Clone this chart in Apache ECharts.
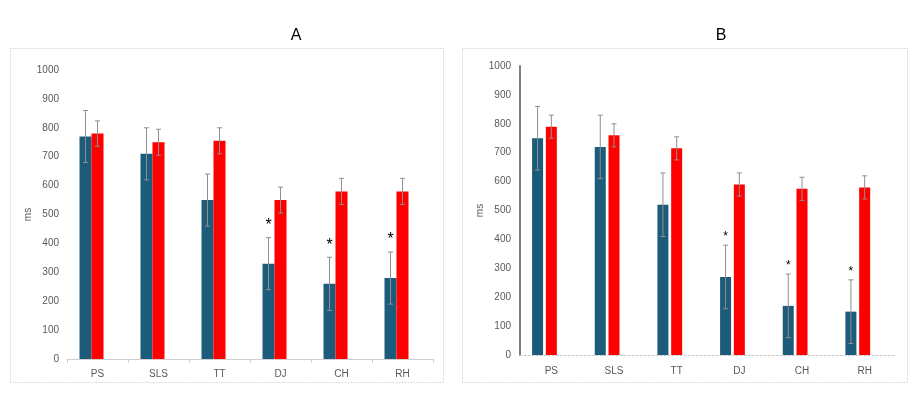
<!DOCTYPE html>
<html><head><meta charset="utf-8">
<script src="https://cdn.jsdelivr.net/npm/echarts@6/dist/echarts.min.js"></script>
<style>html,body{margin:0;padding:0;background:#fff}#c{width:916px;height:394px}</style>
</head><body><div id="c"></div>
<script>
const categories = ['PS', 'SLS', 'TT', 'DJ', 'CH', 'RH'];
const yTicks = [0, 100, 200, 300, 400, 500, 600, 700, 800, 900, 1000];
// Panel A
const blueA = [770, 710, 550, 330, 260, 280];
const blueErrA = [90, 90, 90, 90, 92, 90];
const redA = [780, 750, 755, 550, 580, 580];
const redErrA = [44, 45, 45, 45, 45, 45];
const sigA = [0, 0, 0, 1, 1, 1];
// Panel B
const blueB = [750, 720, 520, 270, 170, 150];
const blueErrB = [110, 110, 110, 110, 110, 110];
const redB = [790, 760, 715, 590, 575, 580];
const redErrB = [40, 40, 40, 40, 40, 40];
const sigB = [0, 0, 0, 1, 1, 1];

const BLUE = '#1d5b7b', RED = '#ff0000', ERR = '#8f8f8f', TXT = '#595959';
const FONT = '"Liberation Sans Narrow", "Liberation Sans", sans-serif';
const TFONT = '"Liberation Sans", sans-serif';

function errSeries(gridIdx, vals, errs, offset) {
  return {
    type: 'custom', xAxisIndex: gridIdx, yAxisIndex: gridIdx, z: 5, silent: true,
    data: vals.map((v, i) => [i, v - errs[i], v + errs[i]]),
    renderItem: function (params, api) {
      const lo = api.coord([api.value(0), api.value(1)]);
      const hi = api.coord([api.value(0), api.value(2)]);
      const x = lo[0] + offset;
      const s = { stroke: ERR, lineWidth: 1 };
      return { type: 'group', children: [
        { type: 'line', shape: { x1: x, y1: lo[1], x2: x, y2: hi[1] }, style: s },
        { type: 'line', shape: { x1: x - 2.5, y1: hi[1], x2: x + 2.5, y2: hi[1] }, style: s },
        { type: 'line', shape: { x1: x - 2.5, y1: lo[1], x2: x + 2.5, y2: lo[1] }, style: s }
      ]};
    }
  };
}

function barData(vals, sig, dist, fs) {
  return vals.map((v, i) => sig[i] ? {
    value: v,
    label: { show: true, position: 'top', distance: dist, formatter: '*', color: '#000', fontSize: fs, fontFamily: TFONT }
  } : v);
}

const chart = echarts.init(document.getElementById('c'), null, { renderer: 'canvas' });
const yAxisCommon = {
  type: 'value', min: 0, max: 1000, interval: 100,
  name: 'ms', nameLocation: 'middle', nameRotate: 90,
  nameTextStyle: { color: TXT, fontSize: 10, fontFamily: FONT },
  splitLine: { show: false }, axisTick: { show: false },
  axisLabel: { color: TXT, fontSize: 10, fontFamily: FONT, formatter: v => yTicks.includes(v) ? String(v) : '' }
};
chart.setOption({
  animation: false,
  title: [
    { text: 'A', left: 291, top: 23, textAlign: 'center', textStyle: { fontSize: 16, fontWeight: 'normal', color: '#000', fontFamily: TFONT } },
    { text: 'B', left: 716, top: 23, textAlign: 'center', textStyle: { fontSize: 16, fontWeight: 'normal', color: '#000', fontFamily: TFONT } }
  ],
  graphic: [
    { type: 'rect', shape: { x: 10.5, y: 48.5, width: 433, height: 334 }, style: { fill: 'none', stroke: '#dcdcdc', lineWidth: 1, lineDash: [2, 1] } },
    { type: 'rect', shape: { x: 462.5, y: 48.5, width: 445, height: 334 }, style: { fill: 'none', stroke: '#dcdcdc', lineWidth: 1, lineDash: [2, 1] } }
  ],
  grid: [
    { left: 67, top: 70, width: 366, height: 289 },
    { left: 520, top: 66, width: 376, height: 289 }
  ],
  xAxis: [
    { gridIndex: 0, type: 'category', data: categories,
      axisLine: { lineStyle: { color: '#d0d0d0', width: 1 } },
      axisTick: { show: true, length: 4, lineStyle: { color: '#d0d0d0' } },
      axisLabel: { color: TXT, fontSize: 10, fontFamily: FONT, margin: 10 } },
    { gridIndex: 1, type: 'category', data: categories,
      axisLine: { lineStyle: { color: '#c8c8c8', width: 1, type: [2, 2] } },
      axisTick: { show: false },
      axisLabel: { color: TXT, fontSize: 10, fontFamily: FONT, margin: 11 } }
  ],
  yAxis: [
    Object.assign({}, yAxisCommon, { gridIndex: 0, nameGap: 30, axisLine: { show: false },
      axisLabel: Object.assign({}, yAxisCommon.axisLabel, { margin: 8 }) }),
    Object.assign({}, yAxisCommon, { gridIndex: 1, nameGap: 33, axisLine: { show: true, lineStyle: { color: '#7f7f7f', width: 2 } },
      axisLabel: Object.assign({}, yAxisCommon.axisLabel, { margin: 9 }) })
  ],
  series: [
    { name: 'A1', type: 'bar', xAxisIndex: 0, yAxisIndex: 0, barWidth: 12, barGap: '0%', itemStyle: { color: BLUE }, data: barData(blueA, sigA, 30, 16) },
    { name: 'A2', type: 'bar', xAxisIndex: 0, yAxisIndex: 0, barWidth: 12, barGap: '0%', itemStyle: { color: RED }, data: redA },
    { name: 'A3', type: 'bar', xAxisIndex: 0, yAxisIndex: 0, barWidth: 12, barGap: '0%', data: categories.map(() => null) },
    errSeries(0, blueA, blueErrA, -12),
    errSeries(0, redA, redErrA, 0),
    { name: 'B1', type: 'bar', xAxisIndex: 1, yAxisIndex: 1, barWidth: 11, barGap: '25%', itemStyle: { color: BLUE }, data: barData(blueB, sigB, 34, 12) },
    { name: 'B2', type: 'bar', xAxisIndex: 1, yAxisIndex: 1, barWidth: 11, barGap: '25%', itemStyle: { color: RED }, data: redB },
    { name: 'B3', type: 'bar', xAxisIndex: 1, yAxisIndex: 1, barWidth: 11, barGap: '25%', data: categories.map(() => null) },
    errSeries(1, blueB, blueErrB, -13.75),
    errSeries(1, redB, redErrB, 0)
  ]
});
</script></body></html>
